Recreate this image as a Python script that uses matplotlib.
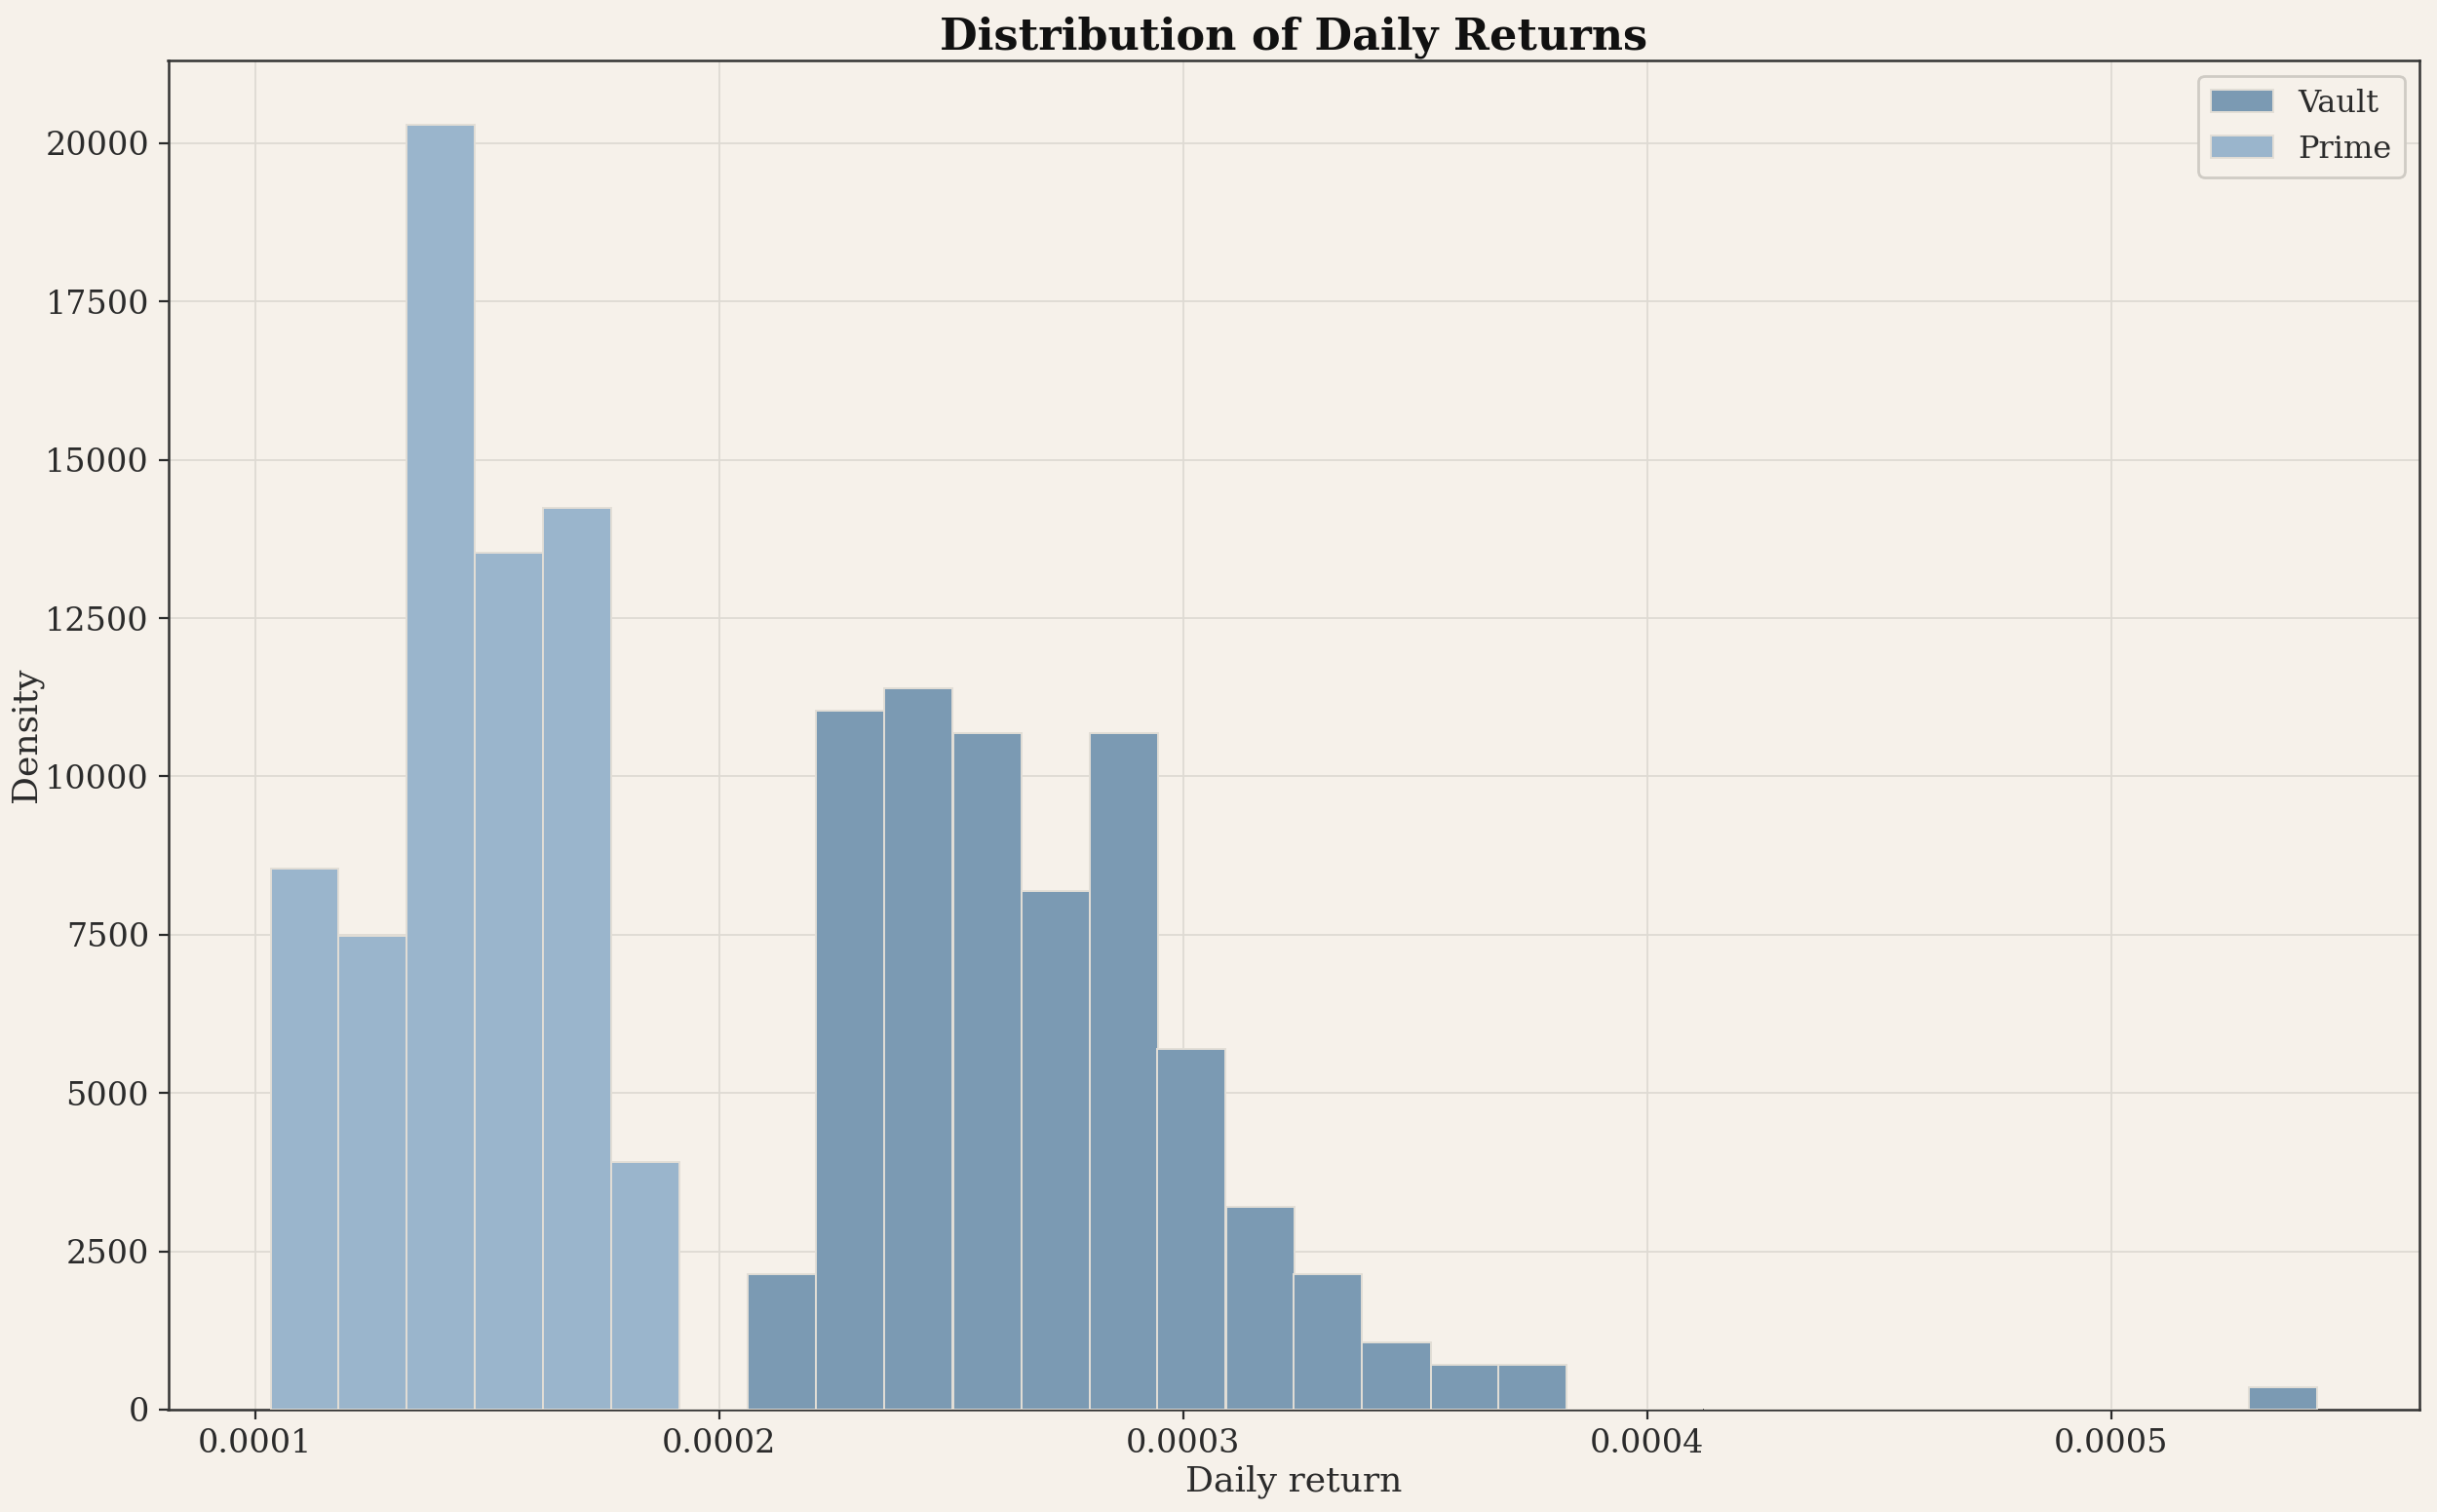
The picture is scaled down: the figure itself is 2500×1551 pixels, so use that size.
import numpy as np
import matplotlib
matplotlib.use("Agg")
import matplotlib.pyplot as plt

# Shared bin edges (30 equal bins)
bin_lo = 0.0001033
bin_hi = 0.0005445
n_bins = 30

# Density per bin (index 0..29)
prime_density = [8544, 7476, 20292, 13528, 14240, 3916] + [0] * 24
vault_density = ([0] * 7 +
                 [2136, 11036, 11392, 10680, 8188, 10680, 5696, 3204, 2136, 1068, 712, 712] +
                 [0] * 10 + [356])

series_names = ["Vault", "Prime"]
colors = {"Vault": "#7b9ab3", "Prime": "#9ab5cc"}

bg = "#f6f1ea"
txt = "#2b2b2b"

plt.rcParams["font.family"] = ["DejaVu Serif"]
plt.rcParams["text.color"] = txt
plt.rcParams["axes.labelcolor"] = txt
plt.rcParams["xtick.color"] = txt
plt.rcParams["ytick.color"] = txt

edges = np.linspace(bin_lo, bin_hi, n_bins + 1)
centers = (edges[:-1] + edges[1:]) / 2

fig, ax = plt.subplots(figsize=(12.5, 7.755), dpi=200)
fig.patch.set_facecolor(bg)
ax.set_facecolor(bg)

data = {"Vault": vault_density, "Prime": prime_density}
for name in series_names:
    w = np.array(data[name], dtype=float)
    mask = w > 0
    ax.hist(centers[mask], bins=edges, weights=w[mask], color=colors[name],
            edgecolor="#e2ded6", linewidth=0.7, label=name, zorder=3)

ax.grid(True, color="#dedad3", linewidth=0.7, alpha=0.9, zorder=0)
ax.set_axisbelow(True)
for s in ax.spines.values():
    s.set_color("#333333")
    s.set_linewidth(0.9)

ax.set_title("Distribution of Daily Returns", fontsize=16, fontweight="bold",
             color="#111111", pad=4)
ax.set_xlabel("Daily return", fontsize=13, labelpad=2)
ax.set_ylabel("Density", fontsize=13, labelpad=1)
ax.tick_params(labelsize=12)

leg = ax.legend(loc="upper right", fontsize=11.5, frameon=True, facecolor=bg,
                edgecolor="#cfcbc4", framealpha=1.0)

fig.subplots_adjust(left=0.069, right=0.993, top=0.960, bottom=0.0677)
fig.savefig("out.png", dpi=200, facecolor=bg)
